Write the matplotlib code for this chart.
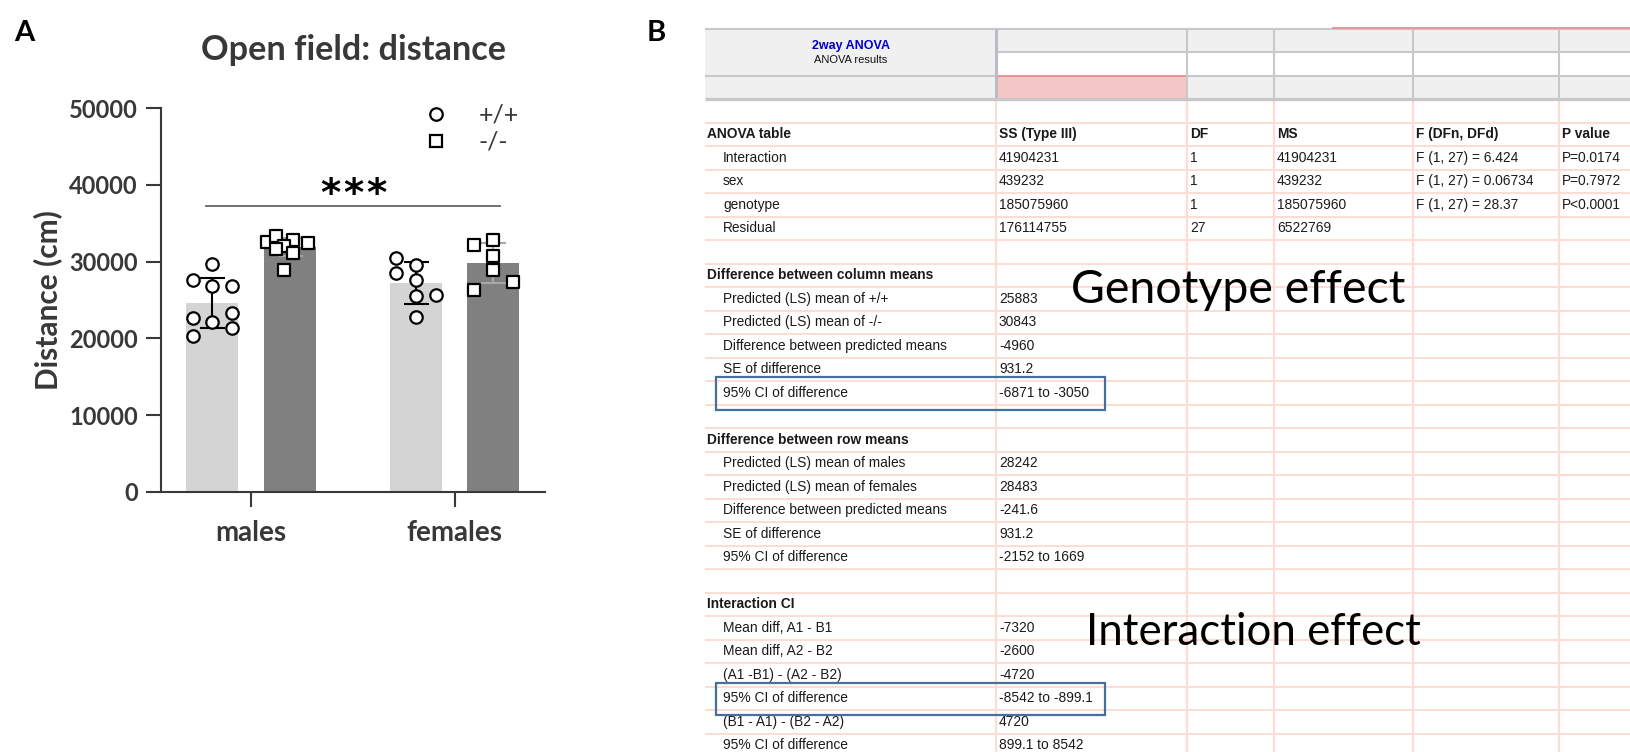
import numpy as np
import matplotlib.pyplot as plt
from matplotlib.patches import Rectangle
from matplotlib.lines import Line2D

# ---------------- panel A: open field distance (cm) ----------------
groups = ["males", "females"]
wt_mean = [24580, 27180]
ko_mean = [31900, 29780]
wt_sd = [3270, 2740]
ko_sd = [1200, 2600]

wt_males = [29750, 27560, 26860, 26860, 22670, 23280, 22070, 21370, 20340]
ko_males = [32560, 33300, 32860, 32430, 32000, 31690, 31130, 28950]
wt_females = [30490, 29560, 28490, 27650, 25470, 25610, 22770]
ko_females = [32170, 32820, 30680, 28960, 27330, 26260]

# sideways spread of the dots (fraction of bar width), as Prism lays them out
wt_males_dx = [0, -.38, 0, .38, -.38, .38, 0, .38, -.38]
ko_males_dx = [-.43, -.26, .06, .35, -.10, -.26, .06, -.10]
wt_females_dx = [-.38, 0, -.38, 0, 0, .38, 0]
ko_females_dx = [-.38, 0, 0, 0, .38, -.38]

sig_level = 37200
sig_text = "***"

# ---------------- panel B: Prism 2way ANOVA sheet ----------------
sheet_title = "2way ANOVA"
sheet_sub = "ANOVA results"
anova_cols = ["SS (Type III)", "DF", "MS", "F (DFn, DFd)", "P value"]
anova_terms = ["Interaction", "sex", "genotype", "Residual"]
anova_ss = ["41904231", "439232", "185075960", "176114755"]
anova_df = ["1", "1", "1", "27"]
anova_ms = ["41904231", "439232", "185075960", "6522769"]
anova_f = ["F (1, 27) = 6.424", "F (1, 27) = 0.06734", "F (1, 27) = 28.37", ""]
anova_p = ["P=0.0174", "P=0.7972", "P<0.0001", ""]

col_labels = ["Predicted (LS) mean of +/+", "Predicted (LS) mean of -/-",
              "Difference between predicted means", "SE of difference",
              "95% CI of difference"]
col_values = ["25883", "30843", "-4960", "931.2", "-6871 to -3050"]
row_labels = ["Predicted (LS) mean of males", "Predicted (LS) mean of females",
              "Difference between predicted means", "SE of difference",
              "95% CI of difference"]
row_values = ["28242", "28483", "-241.6", "931.2", "-2152 to 1669"]
int_labels = ["Mean diff, A1 - B1", "Mean diff, A2 - B2", "(A1 -B1) - (A2 - B2)",
              "95% CI of difference", "(B1 - A1) - (B2 - A2)", "95% CI of difference"]
int_values = ["-7320", "-2600", "-4720", "-8542 to -899.1", "4720", "899.1 to 8542"]

# assemble sheet rows: (label, [cells], bold)
rows = [("", [], False), ("ANOVA table", anova_cols, True)]
for i, t in enumerate(anova_terms):
    rows.append((t, [anova_ss[i], anova_df[i], anova_ms[i], anova_f[i], anova_p[i]], False))
rows.append(("", [], False))
rows.append(("Difference between column means", [], True))
rows += [(l, [v], False) for l, v in zip(col_labels, col_values)]
rows.append(("", [], False))
rows.append(("Difference between row means", [], True))
rows += [(l, [v], False) for l, v in zip(row_labels, row_values)]
rows.append(("", [], False))
rows.append(("Interaction CI", [], True))
rows += [(l, [v], False) for l, v in zip(int_labels, int_values)]
boxed = [12, 25]

fig = plt.figure(figsize=(16.3, 7.52), dpi=100)

# sheet drawn in pixel units of the figure
bx = fig.add_axes([0, 0, 1, 1])
bx.set_xlim(0, 1630)
bx.set_ylim(752, 0)
bx.axis("off")

cx = [705, 996, 1187, 1274, 1413, 1559]
right = 1630
top0, h1, h2, body0 = 29, 52, 76, 99
rh = 23.5
grey_fill = "#f0f0f0"
head_line = "#c6c8cc"
pink = "#fddcd3"

bx.add_patch(Rectangle((cx[0], top0), cx[1] - cx[0], body0 - top0, fc=grey_fill, ec="none"))
bx.add_patch(Rectangle((cx[1], top0), right - cx[1], h1 - top0, fc=grey_fill, ec="none"))
bx.add_patch(Rectangle((cx[1], h2), right - cx[1], body0 - h2, fc=grey_fill, ec="none"))
bx.add_patch(Rectangle((cx[1], h2), cx[2] - cx[1], body0 - h2, fc="#f5c6c6", ec="#e88c8c", lw=1.3))
bx.hlines(top0, cx[0], right, color=head_line, lw=1.5)
bx.hlines(h1, cx[1], right, color=head_line, lw=1.5)
bx.hlines(h2, cx[0], cx[1], color=head_line, lw=1.5)
bx.hlines(h2, cx[2], right, color=head_line, lw=1.5)
bx.vlines(cx[2:], top0, body0, color=head_line, lw=1.5)
bx.vlines(cx[1], top0, body0, color="#b8bcc4", lw=2.2)
bx.hlines(27.5, 1332, right, color="#e59a9a", lw=1.5)

# body grid
n_rows = len(rows)
bx.hlines([body0 + k * rh for k in range(1, n_rows + 1)], cx[0], right, color=pink, lw=1.4, zorder=1)
bx.vlines(cx[1:], body0, 752, color=pink, lw=1.6, zorder=1)
bx.hlines(body0, cx[0], right, color="#c8c8c8", lw=2.4, zorder=2)

bx.text((cx[0] + cx[1]) / 2, 45.5, sheet_title, color="#0000cc", fontsize=9,
        fontweight="bold", family="Liberation Sans", ha="center", va="center")
bx.text((cx[0] + cx[1]) / 2, 60, sheet_sub, color="#111111", fontsize=8,
        family="Liberation Sans", ha="center", va="center")

cell_font = dict(family="Liberation Sans", fontsize=9.9, color="#1a1a1a", va="center")
for k, (label, cells, bold) in enumerate(rows):
    yc = body0 + (k + 0.5) * rh
    w = "bold" if bold else "normal"
    if label:
        bx.text(cx[0] + (2 if bold else 18), yc, label, fontweight=w, **cell_font)
    for j, c in enumerate(cells):
        bx.text(cx[j + 1] + 3, yc, c, fontweight=w, **cell_font)

for k in boxed:
    y0 = body0 + k * rh - 4
    bx.add_patch(Rectangle((716, y0), 389, rh + 9, fill=False, ec="#41719c", lw=1.6, zorder=3))

bx.text(1071, 303, "Genotype effect", family="Lato", fontsize=33.5, color="black", va="baseline", zorder=4)
bx.text(1086, 645, "Interaction effect", family="Lato", fontsize=31.5, color="black", va="baseline", zorder=4)

bx.text(14, 41, "A", family="Lato", fontsize=21, fontweight="bold", va="baseline")
bx.text(647, 41, "B", family="Lato", fontsize=21, fontweight="bold", va="baseline")

# ---------------- panel A plot ----------------
dark = "#383838"
ax = fig.add_axes([161.4 / 1630, 1 - 491.8 / 752, 384 / 1630, 383.6 / 752])
x = np.arange(len(groups))
off = 0.19
bw = 0.254

ax.bar(x - off, wt_mean, bw, color="#d4d4d4", zorder=2)
ax.bar(x + off, ko_mean, bw, color="#808080", zorder=2)
ax.errorbar(x - off, wt_mean, yerr=wt_sd, fmt="none", ecolor="black",
            elinewidth=1.5, capsize=9, capthick=1.5, zorder=3)
ax.errorbar(x + off, ko_mean, yerr=ko_sd, fmt="none", ecolor="#a8a8a8",
            elinewidth=1.5, capsize=9, capthick=1.5, zorder=3)

dots = [(wt_males, wt_males_dx, 0 - off, "o"), (ko_males, ko_males_dx, 0 + off, "s"),
        (wt_females, wt_females_dx, 1 - off, "o"), (ko_females, ko_females_dx, 1 + off, "s")]
for vals, dx, xc, m in dots:
    ax.scatter(xc + np.array(dx) * bw, vals, marker=m, s=80, facecolor="white",
               edgecolor="black", linewidth=1.6, zorder=4, clip_on=False)

# significance bar for genotype effect (stars set apart like the Prism glyphs)
x_a, x_b = 0 - off - 0.03, 1 + off + 0.035
ax.plot([x_a, x_b], [sig_level, sig_level], color="#666666", lw=1.3)
mid = (x_a + x_b) / 2
for i, ch in enumerate(sig_text):
    ax.text(mid + (i - (len(sig_text) - 1) / 2) * 0.113, sig_level + 1500, ch,
            ha="center", va="center", family="DejaVu Sans", fontsize=28,
            fontweight="bold", color="black")

ax.set_xlim(-0.44, 1.446)
ax.set_ylim(0, 50000)
ax.set_yticks(np.arange(0, 50001, 10000))
ax.set_xticks(x)
ax.set_xticklabels(groups)
for s in ["top", "right"]:
    ax.spines[s].set_visible(False)
for s in ["left", "bottom"]:
    ax.spines[s].set_color(dark)
    ax.spines[s].set_linewidth(1.5)
ax.tick_params(length=11, width=1.5, color=dark, labelcolor=dark)
ax.tick_params(axis="y", pad=6)
ax.tick_params(axis="x", pad=9)
for t in ax.get_yticklabels():
    t.set_fontfamily("Lato"); t.set_fontweight("bold"); t.set_fontsize(17)
for t in ax.get_xticklabels():
    t.set_fontfamily("Lato"); t.set_fontweight("bold"); t.set_fontsize(20)
ax.set_ylabel("Distance (cm)", family="Lato", fontweight="bold", fontsize=21.5,
              color=dark, labelpad=5)
ax.set_title("Open field: distance", family="Lato", fontweight="bold", fontsize=24.7,
             color=dark, pad=35)

handles = [Line2D([], [], ls="none", marker="o", ms=9, mfc="white", mec="black", mew=1.6),
           Line2D([], [], ls="none", marker="s", ms=9, mfc="white", mec="black", mew=1.6)]
leg = ax.legend(handles, ["+/+", "-/-"], loc="upper left", bbox_to_anchor=(0.682, 1.011),
                frameon=False, handlelength=1.0, handletextpad=1.22, labelspacing=0.16,
                borderpad=0, borderaxespad=0, prop={"family": "Lato", "size": 18})
for t in leg.get_texts():
    t.set_color(dark)

fig.savefig("out.png", dpi=100)
